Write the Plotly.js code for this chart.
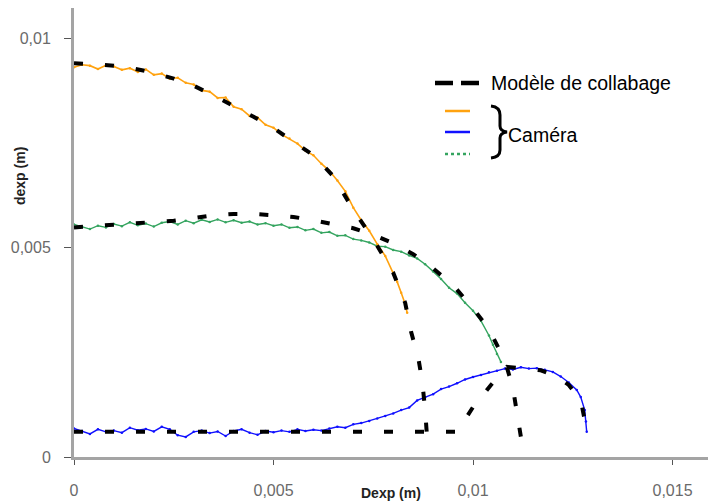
<!DOCTYPE html>
<html>
<head>
<meta charset="utf-8">
<script src="https://cdn.plot.ly/plotly-3.0.1.min.js"></script>
<style>html,body{margin:0;padding:0;background:#fff;}#chart{width:711px;height:501px;}</style>
</head>
<body>
<div id="chart"></div>
<script>
// ---------- data (metres) ----------
const orangeX = [0,0.0002,0.0004,0.0006,0.0008,0.0010,0.0012,0.0014,0.0016,0.0018,0.0020,0.0022,0.0024,0.0026,0.0028,0.0030,0.0032,0.0034,0.0036,0.0038,0.0040,0.0042,0.0044,0.0046,0.0048,0.0050,0.0052,0.0054,0.0056,0.0058,0.0060,0.0062,0.0064,0.0066,0.0068,0.0070,0.0072,0.0074,0.0076,0.0078,0.0080,0.0081,0.0082,0.0083,0.00835];
const orangeY = [0.00930,0.00936,0.00934,0.00926,0.00935,0.00932,0.00924,0.00928,0.00919,0.00925,0.00912,0.00915,0.00903,0.00905,0.00893,0.00889,0.00875,0.00872,0.00857,0.00858,0.00836,0.00830,0.00814,0.00810,0.00793,0.00786,0.00770,0.00760,0.00748,0.00731,0.00720,0.00700,0.00683,0.00660,0.00634,0.00595,0.00565,0.00540,0.00508,0.00480,0.00440,0.00418,0.00392,0.00365,0.00344];

const blueX = [0,0.0002,0.0004,0.0006,0.0008,0.0010,0.0012,0.0014,0.0016,0.0018,0.0020,0.0022,0.0024,0.0026,0.0028,0.0030,0.0032,0.0034,0.0036,0.0038,0.0040,0.0042,0.0044,0.0046,0.0048,0.0050,0.0052,0.0054,0.0056,0.0058,0.0060,0.0062,0.0064,0.0066,0.0068,0.0070,0.0072,0.0074,0.0076,0.0078,0.0080,0.0082,0.0084,0.0086,0.0088,0.0090,0.0092,0.0094,0.0096,0.0098,0.0100,0.0102,0.0104,0.0106,0.0108,0.0110,0.0112,0.0114,0.0116,0.0118,0.0120,0.0122,0.0124,0.0126,0.0127,0.0128,0.01283,0.01285];
const blueY = [0.00068,0.00062,0.00055,0.00066,0.00060,0.00063,0.00058,0.00070,0.00064,0.00067,0.00061,0.00072,0.00066,0.00052,0.00048,0.00060,0.00063,0.00057,0.00061,0.00050,0.00062,0.00066,0.00058,0.00053,0.00062,0.00059,0.00063,0.00060,0.00066,0.00062,0.00065,0.00063,0.00068,0.00072,0.00070,0.00078,0.00081,0.00086,0.00092,0.00098,0.00104,0.00112,0.00118,0.00135,0.00142,0.00150,0.00162,0.00168,0.00176,0.00185,0.00191,0.00196,0.00202,0.00206,0.00211,0.00209,0.00214,0.00211,0.00212,0.00208,0.00203,0.00192,0.00178,0.00160,0.00143,0.00112,0.00085,0.00060];

const greenX = [0,0.0002,0.0004,0.0006,0.0008,0.0010,0.0012,0.0014,0.0016,0.0018,0.0020,0.0022,0.0024,0.0026,0.0028,0.0030,0.0032,0.0034,0.0036,0.0038,0.0040,0.0042,0.0044,0.0046,0.0048,0.0050,0.0052,0.0054,0.0056,0.0058,0.0060,0.0062,0.0064,0.0066,0.0068,0.0070,0.0072,0.0074,0.0076,0.0078,0.0080,0.0082,0.0084,0.0086,0.0088,0.0090,0.0092,0.0094,0.0096,0.0098,0.0100,0.0102,0.0104,0.0105,0.0106,0.0107];
const greenY = [0.00555,0.00550,0.00544,0.00552,0.00548,0.00556,0.00551,0.00560,0.00553,0.00557,0.00550,0.00559,0.00562,0.00555,0.00564,0.00558,0.00566,0.00561,0.00567,0.00560,0.00565,0.00559,0.00562,0.00555,0.00558,0.00552,0.00555,0.00547,0.00549,0.00541,0.00544,0.00535,0.00537,0.00528,0.00529,0.00520,0.00517,0.00512,0.00503,0.00502,0.00494,0.00490,0.00481,0.00474,0.00460,0.00443,0.00425,0.00404,0.00390,0.00368,0.00349,0.00325,0.00290,0.00268,0.00246,0.00227];

// model ("Modèle de collabage"), three branches separated by null
const modelX = [0,0.0005,0.001,0.0015,0.002,0.0025,0.003,0.0035,0.004,0.0045,0.005,0.0055,0.006,0.0065,0.007,0.0075,0.008,0.0083,0.00845,0.00863,0.00873,0.0088,0.00885,null,
  0,0.0005,0.001,0.0015,0.002,0.0025,0.003,0.0035,0.004,0.0045,0.005,0.0055,0.006,0.0065,0.007,0.0075,0.008,0.0085,0.009,0.0095,0.01,0.0104,0.0108,0.0110,0.0111,0.0112,null,
  0,0.001,0.002,0.003,0.004,0.005,0.006,0.007,0.008,0.009,0.0096,0.0100,0.01045,0.01085,0.0113,0.0117,0.0121,0.0124,0.0127,0.01285];
const modelY = [0.00940,0.00938,0.00934,0.00927,0.00917,0.00903,0.00886,0.00863,0.00838,0.00812,0.00785,0.00752,0.00720,0.00670,0.00590,0.00520,0.00440,0.00368,0.00298,0.00236,0.00179,0.00112,0.00045,null,
  0.00548,0.00551,0.00554,0.00557,0.00560,0.00564,0.00570,0.00577,0.00580,0.00580,0.00577,0.00573,0.00565,0.00556,0.00546,0.00530,0.00510,0.00484,0.00450,0.00410,0.00355,0.00305,0.00230,0.00165,0.00110,0.00048,null,
  0.0006,0.0006,0.0006,0.0006,0.0006,0.0006,0.0006,0.0006,0.0006,0.0006,0.0006,0.00119,0.00172,0.00215,0.00212,0.00207,0.00192,0.00172,0.00136,0.00064];

const xTickVals = [0,0.005,0.01,0.015];
const xTickText = ['0','0,005','0,01','0,015'];
const yTickVals = [0,0.005,0.01];
const yTickText = ['0','0,005','0,01'];

const legendModel = 'Modèle de collabage';
const legendCamera = 'Caméra';
const xTitle = 'Dexp (m)';
const yTitle = 'dexp (m)';

// ---------- layout geometry (pixels) ----------
const L = 74, T = 8, W = 634, H = 449;
const px = x => (x - L) / W;
const py = y => (T + H - y) / H;
const xPerPx = 1/39900, yPerPx = 1/41900;

const COL_OR = '#ffa20f', COL_BL = '#1010ff', COL_GR = '#34a45f';
const FONT = 'Liberation Sans, Arial, sans-serif';

const traces = [
  {x: greenX, y: greenY, mode: 'lines+markers', line: {color: COL_GR, width: 1.4}, marker: {color: COL_GR, size: 2.5}, showlegend: false, hoverinfo: 'skip'},
  {x: orangeX, y: orangeY, mode: 'lines+markers', line: {color: COL_OR, width: 1.6}, marker: {color: COL_OR, size: 2.5}, showlegend: false, hoverinfo: 'skip'},
  {x: blueX, y: blueY, mode: 'lines+markers', line: {color: COL_BL, width: 1.4}, marker: {color: COL_BL, size: 2.5}, showlegend: false, hoverinfo: 'skip'},
  {x: modelX, y: modelY, mode: 'lines', connectgaps: false, line: {color: '#000', width: 4, dash: '9px,22px'}, showlegend: false, hoverinfo: 'skip'}
];

function bracePath() {
  const pts = [[491,106],[500,107],[500,115],[500,126],[500,131],[507,132],[500,133],[500,138],[500,150],[500,157],[491,158]];
  const P = pts.map(p => [px(p[0]).toFixed(5), py(p[1]).toFixed(5)]);
  return `M${P[0][0]},${P[0][1]} Q${P[1][0]},${P[1][1]} ${P[2][0]},${P[2][1]} L${P[3][0]},${P[3][1]} Q${P[4][0]},${P[4][1]} ${P[5][0]},${P[5][1]} Q${P[6][0]},${P[6][1]} ${P[7][0]},${P[7][1]} L${P[8][0]},${P[8][1]} Q${P[9][0]},${P[9][1]} ${P[10][0]},${P[10][1]}`;
}

const layout = {
  width: 711, height: 501,
  margin: {l: L, r: 711 - L - W, t: T, b: 501 - T - H, pad: 0},
  paper_bgcolor: '#fff', plot_bgcolor: '#fff',
  showlegend: false,
  xaxis: {
    range: [0, W * xPerPx], tickvals: xTickVals, ticktext: xTickText,
    showgrid: false, zeroline: false, showline: true, linecolor: '#a4a4a4', linewidth: 3,
    ticks: 'outside', ticklen: 5, tickwidth: 1, tickcolor: '#555',
    ticklabelstandoff: 12,
    tickfont: {family: FONT, size: 16, color: '#6a6a6a'},
    fixedrange: true
  },
  yaxis: {
    range: [0, H * yPerPx], tickvals: yTickVals, ticktext: yTickText,
    showgrid: false, zeroline: false, showline: true, linecolor: '#a4a4a4', linewidth: 3,
    ticks: 'outside', ticklen: 7, tickwidth: 1, tickcolor: '#555',
    ticklabelstandoff: 10,
    tickfont: {family: FONT, size: 16, color: '#6a6a6a'},
    fixedrange: true
  },
  shapes: [
    {type: 'line', xref: 'paper', yref: 'paper', x0: px(435), x1: px(479), y0: py(83), y1: py(83), line: {color: '#000', width: 4.5, dash: '18px,8px'}},
    {type: 'line', xref: 'paper', yref: 'paper', x0: px(445), x1: px(470), y0: py(111), y1: py(111), line: {color: COL_OR, width: 2.5}},
    {type: 'line', xref: 'paper', yref: 'paper', x0: px(445), x1: px(470), y0: py(132), y1: py(132), line: {color: COL_BL, width: 2.5}},
    {type: 'line', xref: 'paper', yref: 'paper', x0: px(445), x1: px(470), y0: py(154), y1: py(154), line: {color: COL_GR, width: 2.5, dash: 'dot'}},
    {type: 'path', xref: 'paper', yref: 'paper', path: bracePath(), line: {color: '#000', width: 3}}
  ],
  annotations: [
    {xref: 'paper', yref: 'paper', x: px(489), y: py(83), xanchor: 'left', yanchor: 'middle', showarrow: false,
     text: legendModel, font: {family: FONT, size: 19.5, color: '#000'}},
    {xref: 'paper', yref: 'paper', x: px(506), y: py(135), xanchor: 'left', yanchor: 'middle', showarrow: false,
     text: legendCamera, font: {family: FONT, size: 19.5, color: '#000'}},
    {xref: 'paper', yref: 'paper', x: px(391), y: py(493), xanchor: 'center', yanchor: 'middle', showarrow: false,
     text: '<b>' + xTitle + '</b>', font: {family: FONT, size: 14, color: '#222'}},
    {xref: 'paper', yref: 'paper', x: px(20), y: py(176), xanchor: 'center', yanchor: 'middle', showarrow: false, textangle: -90,
     text: '<b>' + yTitle + '</b>', font: {family: FONT, size: 14, color: '#222'}}
  ]
};

Plotly.newPlot('chart', traces, layout, {displayModeBar: false, staticPlot: true});
</script>
</body>
</html>
